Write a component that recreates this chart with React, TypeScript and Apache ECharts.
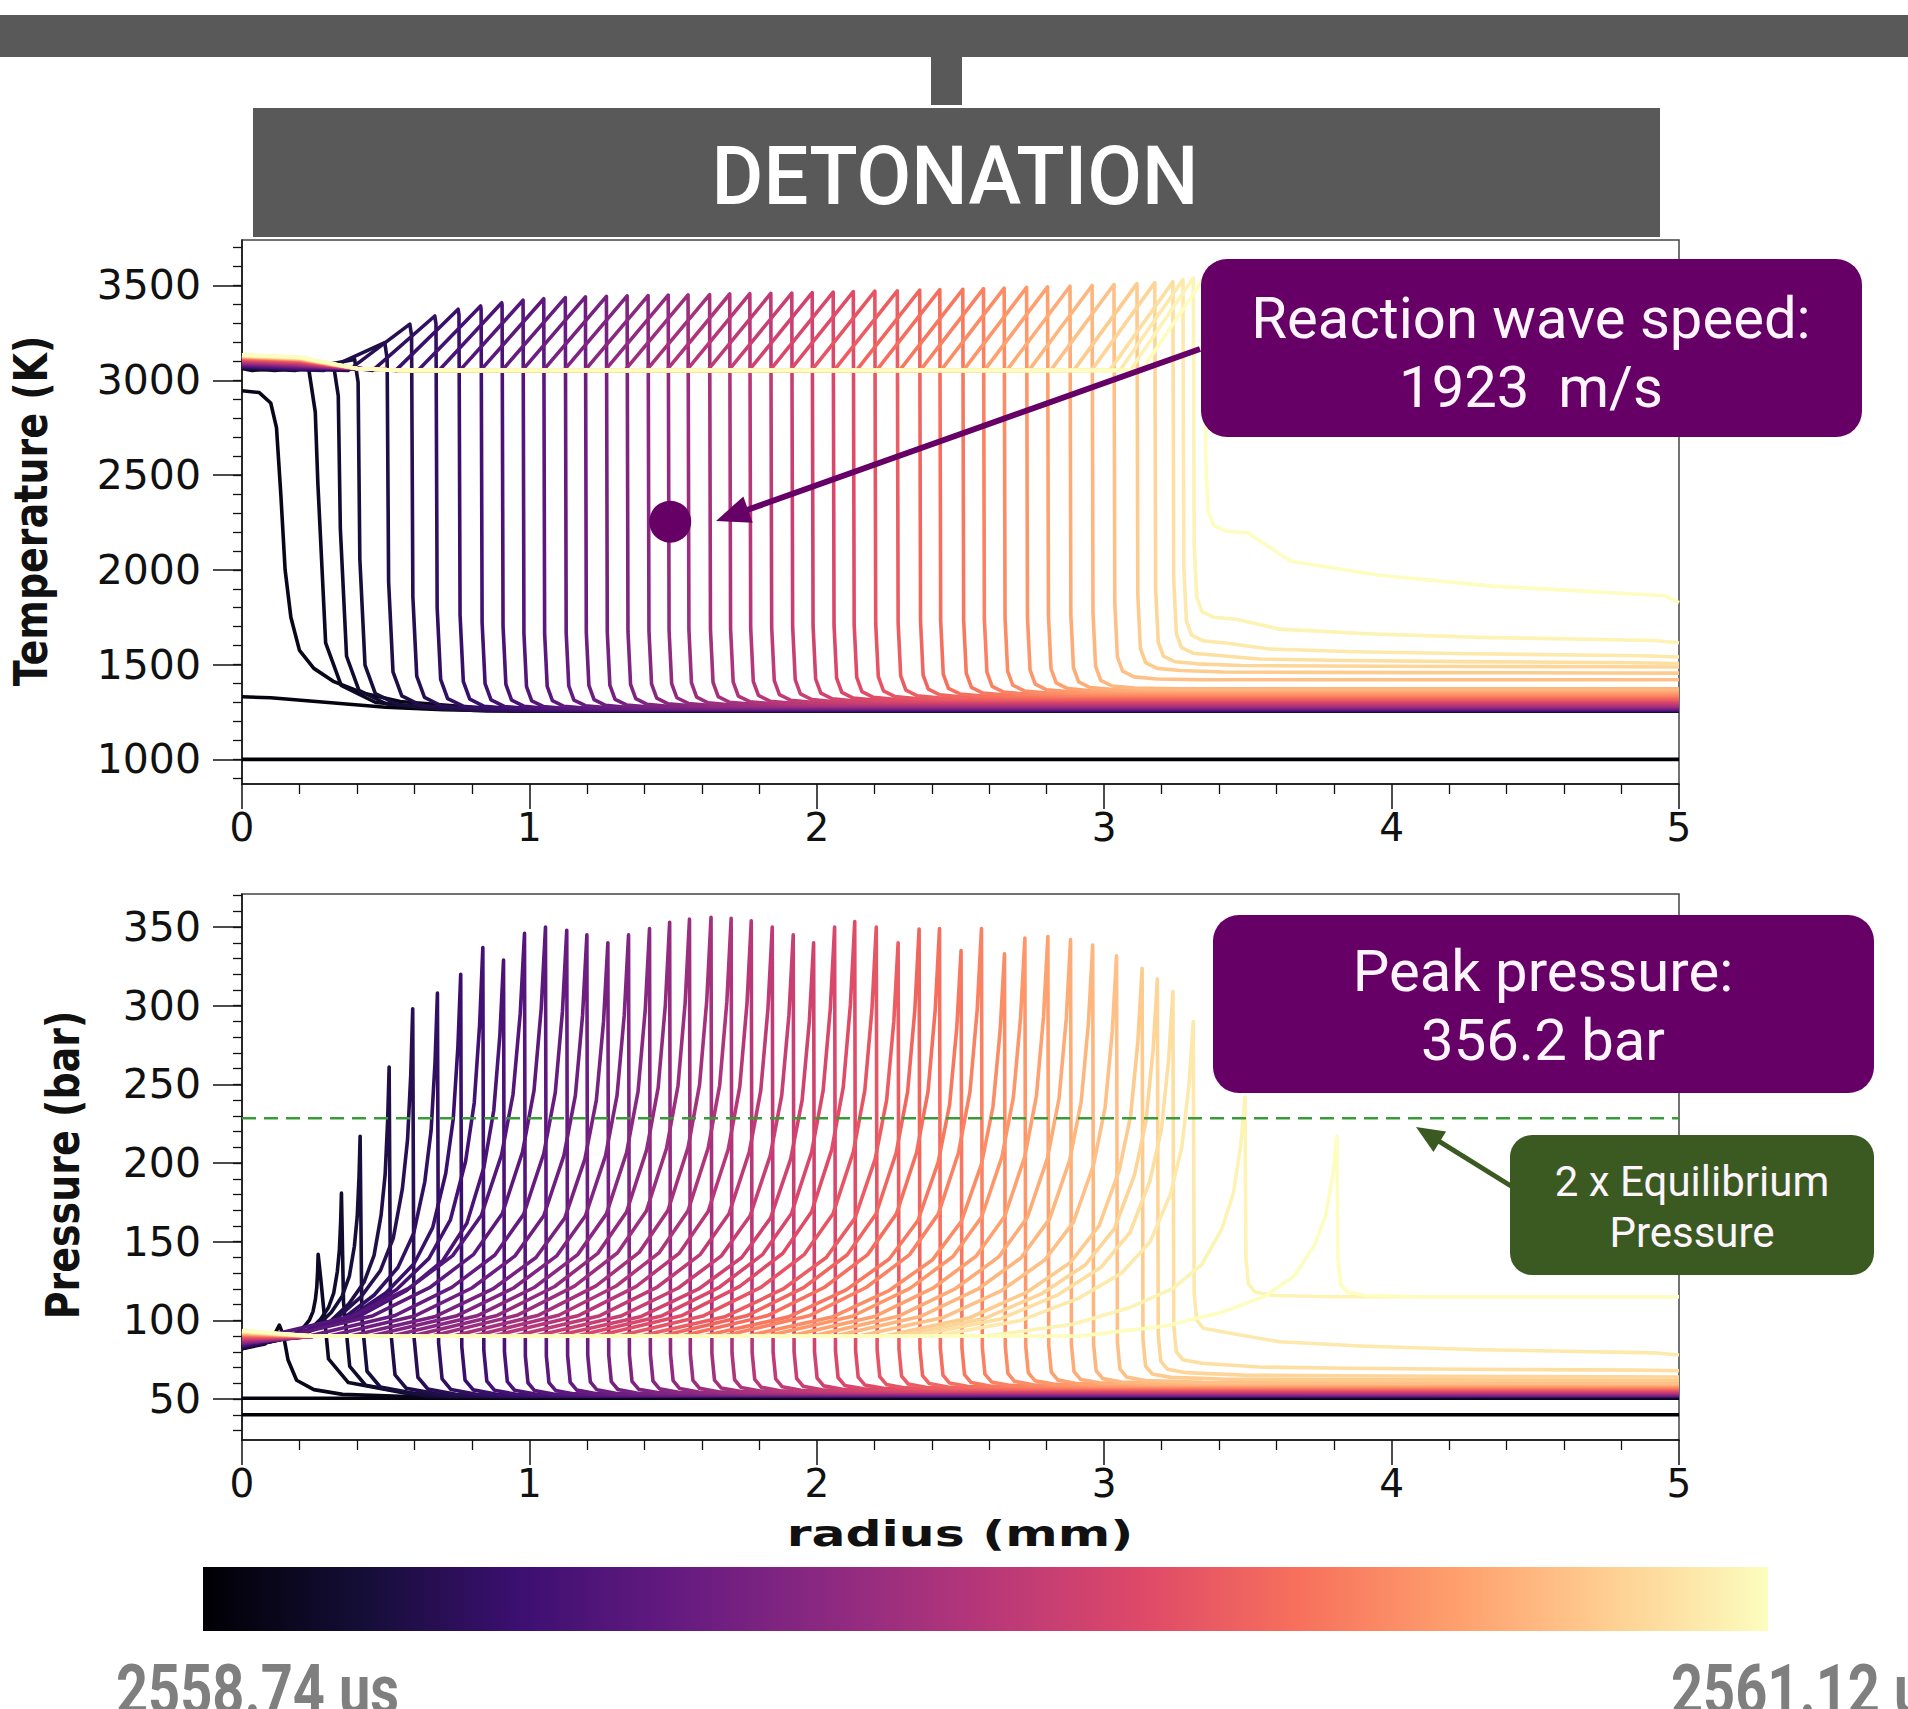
import React, { useEffect, useRef } from "react";
import * as echarts from "echarts";

// ---------- data ----------
// Regular time slices (k = 0..43): front position (mm) and values
const pressureFront = [0.265, 0.346, 0.411, 0.512, 0.594, 0.680, 0.761, 0.838, 0.910, 0.983,
  1.056, 1.130, 1.200, 1.273, 1.345, 1.418, 1.488, 1.557, 1.632, 1.702,
  1.772, 1.845, 1.918, 1.989, 2.062, 2.132, 2.207, 2.283, 2.356, 2.427,
  2.502, 2.573, 2.653, 2.724, 2.804, 2.883, 2.960, 3.043, 3.132, 3.185,
  3.239, 3.310, 3.490, 3.810];
const pressurePeak = [142, 181, 217, 261, 298, 308, 320, 337, 329, 346,
  350, 348, 345, 340, 345, 349, 353, 355, 356.2, 355.5,
  354, 350, 345, 340, 350, 353.5, 350, 340, 348.7, 349,
  335, 349, 333, 343, 344, 342, 338.5, 331.7, 323.7, 317,
  309, 290, 242, 217];
const pressureAhead = [51.5, 51.6, 51.7, 51.8, 51.9, 52.0, 52.1, 52.2, 52.3, 52.4,
  52.5, 52.7, 52.9, 53.1, 53.3, 53.5, 53.7, 53.9, 54.1, 54.3,
  54.5, 54.8, 55.1, 55.4, 55.7, 56.0, 56.3, 56.6, 56.9, 57.2,
  57.5, 57.9, 58.3, 58.7, 59.1, 59.5, 60.0, 61, 63, 66,
  72, 92, 115, 115];
const pressureEnd = [51.5, 51.6, 51.7, 51.8, 51.9, 52.0, 52.1, 52.2, 52.3, 52.4,
  52.5, 52.7, 52.9, 53.1, 53.3, 53.5, 53.7, 53.9, 54.1, 54.3,
  54.5, 54.8, 55.1, 55.4, 55.7, 56.0, 56.3, 56.6, 56.9, 57.2,
  57.5, 57.9, 58.3, 58.7, 59.1, 59.5, 60.0, 60, 62, 64,
  68, 78, 115, 115];
const pressureAtWall = [82, 82.3, 82.6, 82.9, 83.2, 83.5, 83.8, 84.1, 84.4, 84.7,
  85, 85.3, 85.6, 85.9, 86.2, 86.5, 86.8, 87.1, 87.4, 87.7,
  88, 88.3, 88.6, 88.9, 89.2, 89.5, 89.8, 90.1, 90.4, 90.7,
  91, 91.2, 91.4, 91.6, 91.8, 92, 92.2, 92.4, 92.6, 92.8,
  93, 93.2, 93.4, 93.6];
const pressureBurned = 90;

const tempFront = [0.255, 0.335, 0.404, 0.505, 0.590, 0.675, 0.755, 0.832, 0.905, 0.978,
  1.050, 1.125, 1.195, 1.268, 1.340, 1.413, 1.483, 1.552, 1.627, 1.697,
  1.767, 1.840, 1.913, 1.984, 2.057, 2.127, 2.202, 2.280, 2.358, 2.428,
  2.508, 2.580, 2.652, 2.730, 2.803, 2.881, 2.958, 3.034, 3.114, 3.176,
  3.239, 3.274, 3.310, 3.350];
const tempPeak = [3072, 3085, 3110, 3199, 3296, 3339, 3375, 3392, 3409, 3422,
  3430, 3436, 3440, 3443, 3445, 3447, 3449, 3450, 3452, 3455,
  3457, 3458, 3460, 3462, 3465, 3467, 3470, 3472, 3475, 3478,
  3480, 3483, 3486, 3490, 3493, 3496, 3500, 3505, 3510, 3515,
  3520, 3530, 3540, 3545];
const tempAhead = [1255, 1256, 1257, 1258, 1259, 1260, 1261, 1262, 1263, 1264,
  1265, 1268, 1270, 1272, 1275, 1278, 1280, 1283, 1286, 1289,
  1292, 1296, 1300, 1304, 1308, 1312, 1316, 1320, 1325, 1330,
  1335, 1340, 1346, 1352, 1358, 1364, 1372, 1420, 1465, 1500,
  1545, 1610, 1735, 2190];
const tempEnd = [1255, 1256, 1257, 1258, 1259, 1260, 1261, 1262, 1263, 1264,
  1265, 1268, 1270, 1272, 1275, 1278, 1280, 1283, 1286, 1289,
  1292, 1296, 1300, 1304, 1308, 1312, 1316, 1320, 1325, 1330,
  1335, 1340, 1346, 1352, 1358, 1364, 1372, 1420, 1455, 1487,
  1506, 1540, 1615, 1827];
const tempAtWall = [3062, 3064, 3066, 3068, 3070, 3072, 3074, 3076, 3078, 3080,
  3082, 3084, 3086, 3088, 3090, 3092, 3094, 3096, 3098, 3100,
  3102, 3104, 3106, 3108, 3110, 3112, 3114, 3116, 3118, 3120,
  3121, 3122, 3123, 3124, 3125, 3126, 3127, 3128, 3129, 3130,
  3131, 3132, 3133, 3134];
const tempBurned = 3052;

// rounding of the early (dark) fronts
const kneeWidth = [3, 2.4, 2, 1.7, 1.5, 1.35, 1.25, 1.15, 1.1];
const tailWidth = [0.12, 0.18, 0.25, 0.35, 0.45, 0.55, 0.65, 0.75, 0.85];

// first three slices, read point by point
const tempInitial = [[0, 1000], [5, 1000]];
const tempSecond = [[0, 1330], [0.1, 1325], [0.3, 1300], [0.5, 1275], [0.7, 1262], [0.95, 1258], [5, 1256]];
const tempThird = [[0, 2945], [0.06, 2935], [0.1, 2880], [0.12, 2750], [0.135, 2400], [0.15, 2000],
  [0.17, 1750], [0.2, 1575], [0.25, 1480], [0.32, 1410], [0.42, 1350], [0.55, 1305], [0.8, 1275], [1.2, 1262], [5, 1256]];
const pressureInitial = [[0, 40], [5, 40]];
const pressureSecond = [[0, 50.5], [5, 50.5]];
const pressureThird = [[0, 82], [0.08, 85], [0.11, 90], [0.13, 97], [0.145, 90], [0.16, 75], [0.19, 62],
  [0.25, 56], [0.35, 53], [0.6, 51.5], [5, 51]];

// profile shapes (offsets in mm, fractions of the jump)
const pressureTailOffset = [-0.9, -0.6, -0.4, -0.25, -0.15, -0.08, -0.04, -0.015, 0];
const pressureTailFraction = [0, 0.05, 0.12, 0.2, 0.3, 0.45, 0.6, 0.8, 1];
const pressureDropOffset = [0.003, 0.012, 0.035, 0.1];
const pressureDropExcess = [25, 8, 3, 0.8];
const tempRampLength = 0.22;
const tempDropOffset = [0.003, 0.012, 0.03, 0.07, 0.15];
const tempDropExcess = [400, 120, 45, 15, 4];
const decayOffset = [0.1, 0.3, 0.6, 1.0, 1.6];
const decayFraction = [0.18, 0.4, 0.6, 0.76, 0.9];

const equilibriumTwice = 228.5;
const wavePoint = [1.49, 2254];

const tempMajorTicks = [1000, 1500, 2000, 2500, 3000, 3500];
const tempMinorTicks = [900, 1000, 1100, 1200, 1300, 1400, 1500, 1600, 1700, 1800, 1900, 2000, 2100, 2200,
  2300, 2400, 2500, 2600, 2700, 2800, 2900, 3000, 3100, 3200, 3300, 3400, 3500, 3600, 3700];
const pressureMajorTicks = [50, 100, 150, 200, 250, 300, 350];
const pressureMinorTicks = [30, 40, 50, 60, 70, 80, 90, 100, 110, 120, 130, 140, 150, 160, 170, 180, 190, 200,
  210, 220, 230, 240, 250, 260, 270, 280, 290, 300, 310, 320, 330, 340, 350, 360, 370];

const MAGMA = ["#000004", "#140e36", "#3b0f70", "#641a80", "#8c2981", "#b73779", "#de4968", "#f7705c", "#fe9f6d", "#fecf92", "#fcfdbf"];

// ---------- helpers ----------
function hexRgb(h: string) {
  return [parseInt(h.slice(1, 3), 16), parseInt(h.slice(3, 5), 16), parseInt(h.slice(5, 7), 16)];
}
function magma(t: number) {
  const s = Math.max(0, Math.min(1, t)) * 10;
  const i = Math.min(9, Math.floor(s));
  const f = s - i;
  const a = hexRgb(MAGMA[i]);
  const b = hexRgb(MAGMA[i + 1]);
  const c = a.map((v, j) => Math.round(v + (b[j] - v) * f));
  return `rgb(${c[0]},${c[1]},${c[2]})`;
}
function pushMono(pts: number[][], x: number, y: number) {
  if (x > pts[pts.length - 1][0] && x <= 5) pts.push([x, y]);
}

function tempProfile(k: number) {
  const xf = tempFront[k], pk = tempPeak[k], ah = tempAhead[k], end = tempEnd[k];
  const s = kneeWidth[k] ?? 1;
  const pts: number[][] = [[0, tempAtWall[k]]];
  const behind = [[0.2, tempAtWall[k] - 12], [0.4, 3062], [0.55, tempBurned]];
  const rs = xf - tempRampLength;
  behind.forEach((p) => { if (p[0] < rs) pushMono(pts, p[0], p[1]); });
  if (rs > 0) pushMono(pts, rs, tempBurned);
  if (s > 1) {
    pushMono(pts, xf - 0.012 * (s - 1), pk);
    pushMono(pts, xf, pk - 120 * (s - 1));
  } else {
    pushMono(pts, xf, pk);
  }
  tempDropOffset.forEach((d, j) => pushMono(pts, xf + d * s, ah + tempDropExcess[j] * s));
  decayOffset.forEach((d, j) => pushMono(pts, xf + d, ah - decayFraction[j] * (ah - end)));
  pushMono(pts, 5, end);
  return pts;
}

function pressureProfile(k: number) {
  const xf = pressureFront[k], pk = pressurePeak[k], ah = pressureAhead[k], end = pressureEnd[k];
  const s = kneeWidth[k] ?? 1;
  const tw = tailWidth[k] ?? 1;
  const pts: number[][] = [[0, pressureAtWall[k]]];
  const ts = xf + pressureTailOffset[0] * tw;
  if (ts > 0.25) pushMono(pts, 0.25, pressureBurned);
  pressureTailOffset.forEach((d, j) =>
    pushMono(pts, xf + d * tw, pressureBurned + pressureTailFraction[j] * (pk - pressureBurned)));
  pressureDropOffset.forEach((d, j) => pushMono(pts, xf + d * s, ah + pressureDropExcess[j] * s));
  decayOffset.forEach((d, j) => pushMono(pts, xf + d, ah - decayFraction[j] * (ah - end)));
  pushMono(pts, 5, end);
  return pts;
}

function arrow(x1: number, y1: number, x2: number, y2: number, color: string, lw: number, hl: number, hw: number) {
  const dx = x2 - x1, dy = y2 - y1, L = Math.hypot(dx, dy);
  const ux = dx / L, uy = dy / L;
  const bx = x2 - ux * hl, by = y2 - uy * hl;
  const nx = -uy, ny = ux;
  return [
    { type: "line", z: 100, shape: { x1, y1, x2: bx + ux * 4, y2: by + uy * 4 }, style: { stroke: color, lineWidth: lw } },
    { type: "polygon", z: 101, shape: { points: [[x2, y2], [bx + nx * hw, by + ny * hw], [bx - nx * hw, by - ny * hw]] }, style: { fill: color } },
  ];
}

export default function App() {
  const ref = useRef<HTMLDivElement>(null);
  useEffect(() => {
    if (!ref.current) return;
    const chart = echarts.init(ref.current, null, { renderer: "svg", width: 1908, height: 1709 });

    const tempCurves: number[][][] = [tempInitial, tempSecond, tempThird];
    const pressCurves: number[][][] = [pressureInitial, pressureSecond, pressureThird];
    for (let k = 0; k < pressureFront.length; k++) {
      tempCurves.push(tempProfile(k));
      pressCurves.push(pressureProfile(k));
    }
    const n = tempCurves.length;
    const series: any[] = [];
    tempCurves.forEach((d, i) => series.push({
      type: "line", xAxisIndex: 0, yAxisIndex: 0, data: d, symbol: "none", silent: true,
      lineStyle: { color: magma(i / (n - 1)), width: 3.6, join: "round" }, z: 2,
    }));
    pressCurves.forEach((d, i) => series.push({
      type: "line", xAxisIndex: 1, yAxisIndex: 2, data: d, symbol: "none", silent: true,
      lineStyle: { color: magma(i / (n - 1)), width: 3.6, join: "round" }, z: 2,
    }));
    series.push({
      type: "line", xAxisIndex: 1, yAxisIndex: 2, data: [[0, equilibriumTwice], [5, equilibriumTwice]],
      symbol: "none", silent: true, z: 5, lineStyle: { color: "#3a9a3a", width: 2.4, type: [14, 8] },
    });
    series.push({
      type: "scatter", xAxisIndex: 0, yAxisIndex: 0, data: [wavePoint], symbolSize: 42, silent: true, z: 6,
      itemStyle: { color: "#660066", opacity: 1 },
    });

    const axisLineStyle = { color: "#111", width: 1.5 };
    const plain = (v: number) => String(v);
    const xAxisBase = (gi: number) => ({
      gridIndex: gi, type: "value", min: 0, max: 5, interval: 1,
      axisLine: { show: true, onZero: false, lineStyle: axisLineStyle },
      axisTick: { show: true, length: 25, lineStyle: axisLineStyle },
      minorTick: { show: true, splitNumber: 5, length: 10, lineStyle: { color: "#111", width: 1.3 } },
      axisLabel: { fontSize: 39, fontFamily: "DejaVu Sans", color: "#111", margin: 24, formatter: plain },
      splitLine: { show: false },
    });
    const yMajor = (gi: number, min: number, max: number, ticks: number[]) => ({
      gridIndex: gi, type: "value", min, max, position: "left", offset: 0,
      axisLine: { show: true, onZero: false, lineStyle: axisLineStyle },
      axisTick: { show: true, length: 29, lineStyle: axisLineStyle, customValues: ticks },
      axisLabel: { fontSize: 41, fontFamily: "DejaVu Sans", color: "#111", margin: 41, customValues: ticks, formatter: plain },
      splitLine: { show: false },
    });
    const yMinor = (gi: number, min: number, max: number, ticks: number[]) => ({
      gridIndex: gi, type: "value", min, max, position: "left", offset: 0,
      axisLine: { show: false },
      axisTick: { show: true, length: 9, lineStyle: { color: "#111", width: 1.3 }, customValues: ticks },
      axisLabel: { show: false },
      splitLine: { show: false },
    });

    const white = "#fdf4fc";
    const graphic: any[] = [
      { type: "rect", z: 100, shape: { x: 0, y: 15, width: 1908, height: 42 }, style: { fill: "#595959" } },
      { type: "rect", z: 100, shape: { x: 931, y: 57, width: 31, height: 48 }, style: { fill: "#595959" } },
      { type: "rect", z: 100, shape: { x: 253, y: 108, width: 1407, height: 129 }, style: { fill: "#595959" } },
      { type: "text", z: 101, x: 955, y: 176, scaleX: 0.97, style: { text: "DETONATION", fill: "#ffffff", fontSize: 82, fontWeight: 500, fontFamily: "Roboto", align: "center", verticalAlign: "middle" } },

      { type: "rect", z: 100, shape: { x: 1201, y: 259, width: 661, height: 178, r: 26 }, style: { fill: "#660066" } },
      { type: "text", z: 101, x: 1531, y: 318, style: { text: "Reaction wave speed:", fill: white, fontSize: 58, fontFamily: "Roboto", align: "center", verticalAlign: "middle" } },
      { type: "text", z: 101, x: 1531, y: 387, style: { text: "1923  m/s", fill: white, fontSize: 58, fontFamily: "Roboto", align: "center", verticalAlign: "middle" } },
      ...arrow(1200, 349, 716, 521, "#660066", 6, 34, 14),

      { type: "rect", z: 100, shape: { x: 1213, y: 915, width: 661, height: 178, r: 26 }, style: { fill: "#660066" } },
      { type: "text", z: 101, x: 1543, y: 971, style: { text: "Peak pressure:", fill: white, fontSize: 58, fontFamily: "Roboto", align: "center", verticalAlign: "middle" } },
      { type: "text", z: 101, x: 1543, y: 1040, style: { text: "356.2 bar", fill: white, fontSize: 58, fontFamily: "Roboto", align: "center", verticalAlign: "middle" } },

      { type: "rect", z: 100, shape: { x: 1510, y: 1135, width: 364, height: 140, r: 22 }, style: { fill: "#3b5a22" } },
      { type: "text", z: 101, x: 1692, y: 1181, style: { text: "2 x Equilibrium", fill: white, fontSize: 42, fontFamily: "Roboto", align: "center", verticalAlign: "middle" } },
      { type: "text", z: 101, x: 1692, y: 1232, style: { text: "Pressure", fill: white, fontSize: 42, fontFamily: "Roboto", align: "center", verticalAlign: "middle" } },
      ...arrow(1511, 1186, 1416, 1127, "#3b5a22", 5, 28, 12),

      { type: "text", z: 101, x: 31, y: 511, rotation: Math.PI / 2, scaleY: 1.2, style: { text: "Temperature (K)", fill: "#111", fontSize: 38, fontWeight: "bold", fontFamily: "DejaVu Sans", align: "center", verticalAlign: "middle" } },
      { type: "text", z: 101, x: 63, y: 1165, rotation: Math.PI / 2, scaleY: 1.2, style: { text: "Pressure (bar)", fill: "#111", fontSize: 38, fontWeight: "bold", fontFamily: "DejaVu Sans", align: "center", verticalAlign: "middle" } },
      { type: "text", z: 101, x: 960, y: 1533, scaleX: 1.4, style: { text: "radius (mm)", fill: "#111", fontSize: 36, fontWeight: "bold", fontFamily: "DejaVu Sans", align: "center", verticalAlign: "middle" } },

      {
        type: "rect", z: 100, shape: { x: 203, y: 1567, width: 1565, height: 64 },
        style: { fill: new echarts.graphic.LinearGradient(0, 0, 1, 0, MAGMA.map((c, i) => ({ offset: i / 10, color: c }))) },
      },
      { type: "text", z: 101, x: 116, y: 1690, scaleX: 0.8, style: { text: "2558.74 us", fill: "#7f7f7f", fontSize: 70, fontWeight: "bold", fontFamily: "Roboto", align: "left", verticalAlign: "middle" } },
      { type: "text", z: 101, x: 1671, y: 1690, scaleX: 0.8, style: { text: "2561.12 us", fill: "#7f7f7f", fontSize: 70, fontWeight: "bold", fontFamily: "Roboto", align: "left", verticalAlign: "middle" } },
    ];

    chart.setOption({
      animation: false,
      backgroundColor: "#ffffff",
      grid: [
        { left: 242, top: 240, width: 1437, height: 544, show: true, borderColor: "#444", borderWidth: 1.5, backgroundColor: "transparent" },
        { left: 242, top: 894, width: 1437, height: 546, show: true, borderColor: "#444", borderWidth: 1.5, backgroundColor: "transparent" },
      ],
      xAxis: [xAxisBase(0), xAxisBase(1)],
      yAxis: [
        yMajor(0, 870, 3740, tempMajorTicks),
        yMinor(0, 870, 3740, tempMinorTicks),
        yMajor(1, 24, 371, pressureMajorTicks),
        yMinor(1, 24, 371, pressureMinorTicks),
      ],
      series,
      graphic,
    });
    return () => chart.dispose();
  }, []);
  return <div ref={ref} style={{ position: "fixed", left: 0, top: 0, width: 1908, height: 1709, background: "#fff" }} />;
}
